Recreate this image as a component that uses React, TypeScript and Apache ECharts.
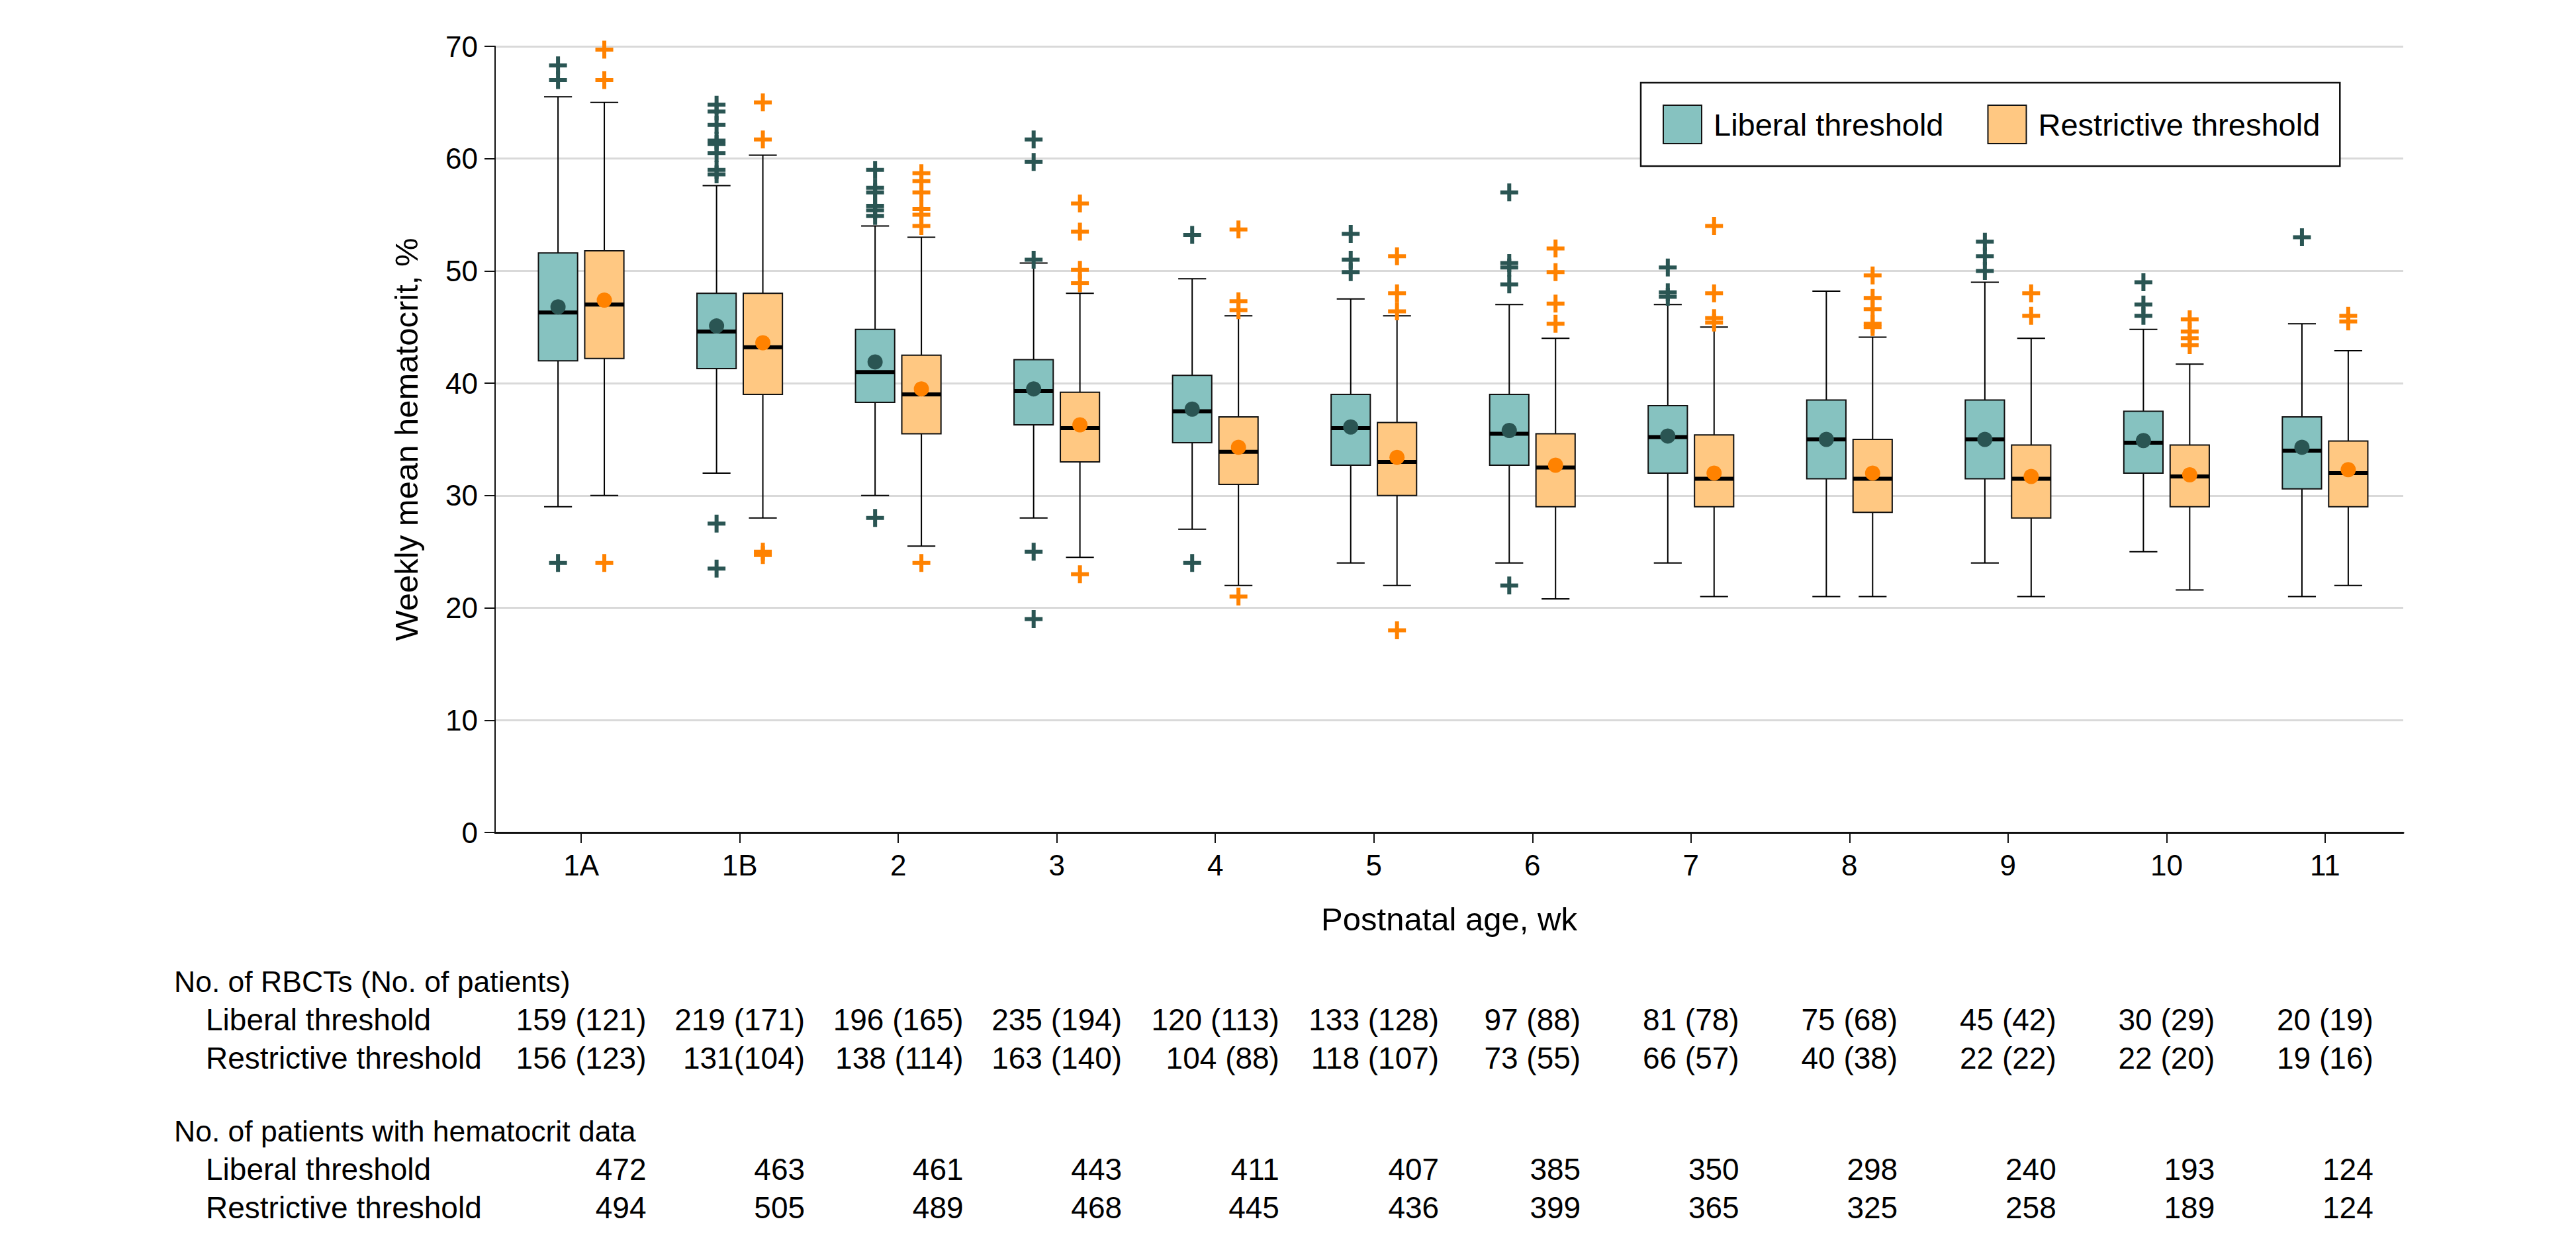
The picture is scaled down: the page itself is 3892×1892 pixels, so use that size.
import React, { useEffect, useRef } from 'react';
import * as echarts from 'echarts';

const CATEGORIES = ['1A', '1B', '2', '3', '4', '5', '6', '7', '8', '9', '10', '11'];

// [low whisker, Q1, median, Q3, high whisker]
const LIBERAL_STATS = [
  [29.0, 42.0, 46.3, 51.6, 65.5],
  [32.0, 41.3, 44.6, 48.0, 57.6],
  [30.0, 38.3, 41.0, 44.8, 54.0],
  [28.0, 36.3, 39.3, 42.1, 50.7],
  [27.0, 34.7, 37.5, 40.7, 49.3],
  [24.0, 32.7, 36.0, 39.0, 47.5],
  [24.0, 32.7, 35.5, 39.0, 47.0],
  [24.0, 32.0, 35.2, 38.0, 47.0],
  [21.0, 31.5, 35.0, 38.5, 48.2],
  [24.0, 31.5, 35.0, 38.5, 49.0],
  [25.0, 32.0, 34.7, 37.5, 44.8],
  [21.0, 30.6, 34.0, 37.0, 45.3],
];
const RESTRICTIVE_STATS = [
  [30.0, 42.2, 47.0, 51.8, 65.0],
  [28.0, 39.0, 43.2, 48.0, 60.3],
  [25.5, 35.5, 39.0, 42.5, 53.0],
  [24.5, 33.0, 36.0, 39.2, 48.0],
  [22.0, 31.0, 33.9, 37.0, 46.0],
  [22.0, 30.0, 33.0, 36.5, 46.0],
  [20.8, 29.0, 32.5, 35.5, 44.0],
  [21.0, 29.0, 31.5, 35.4, 45.0],
  [21.0, 28.5, 31.5, 35.0, 44.1],
  [21.0, 28.0, 31.5, 34.5, 44.0],
  [21.6, 29.0, 31.7, 34.5, 41.7],
  [22.0, 29.0, 32.0, 34.85, 42.9],
];
const LIBERAL_MEANS = [46.8, 45.1, 41.9, 39.5, 37.7, 36.1, 35.8, 35.3, 35.0, 35.0, 34.9, 34.3];
const RESTRICTIVE_MEANS = [47.4, 43.6, 39.5, 36.3, 34.3, 33.4, 32.7, 32.0, 32.0, 31.7, 31.85, 32.3];

const LIBERAL_OUTLIERS = [
  [68.3, 67.0, 24.0],
  [64.8, 64.2, 63.0, 61.6, 61.3, 60.5, 59.0, 58.6, 27.5, 23.5],
  [59.0, 57.4, 57.0, 55.8, 55.4, 54.9, 28.0],
  [61.7, 59.7, 51.0, 25.0, 19.0],
  [53.2, 24.0],
  [53.3, 51.0, 49.9],
  [57.0, 50.7, 50.3, 48.8, 22.0],
  [50.3, 48.1, 47.7],
  [],
  [52.6, 51.3, 50.0],
  [49.0, 47.0, 46.0],
  [53.0],
];
const RESTRICTIVE_OUTLIERS = [
  [69.7, 67.0, 24.0],
  [65.0, 61.7, 25.0, 24.7],
  [58.7, 58.0, 57.0, 55.5, 55.0, 54.0, 24.0],
  [56.0, 53.5, 50.1, 48.9, 23.0],
  [53.7, 47.3, 46.5, 21.0],
  [51.3, 48.0, 46.4, 18.0],
  [52.0, 49.9, 47.1, 45.3],
  [54.0, 48.0, 45.8, 45.4],
  [49.6, 47.6, 46.6, 45.3, 45.0],
  [48.0, 46.0],
  [45.7, 44.6, 44.0, 43.4],
  [46.0, 45.5],
];

const RBCT_LIBERAL = ['159 (121)', '219 (171)', '196 (165)', '235 (194)', '120 (113)', '133 (128)', '97 (88)', '81 (78)', '75 (68)', '45 (42)', '30 (29)', '20 (19)'];
const RBCT_RESTRICTIVE = ['156 (123)', '131(104)', '138 (114)', '163 (140)', '104 (88)', '118 (107)', '73 (55)', '66 (57)', '40 (38)', '22 (22)', '22 (20)', '19 (16)'];
const HCT_LIBERAL = ['472', '463', '461', '443', '411', '407', '385', '350', '298', '240', '193', '124'];
const HCT_RESTRICTIVE = ['494', '505', '489', '468', '445', '436', '399', '365', '325', '258', '189', '124'];

const SERIES_NAMES = ['Liberal threshold', 'Restrictive threshold'];

const FONT = '"Liberation Sans", Arial, Helvetica, sans-serif';
const TEAL_FILL = '#86C2C0';
const TEAL_DARK = '#2A5553';
const ORANGE_FILL = '#FFC882';
const ORANGE = '#FF8200';

const OFFSET = 0.146; // half distance between paired boxes, in category units
const BOX_WIDTH = 0.247;
const CAP_WIDTH = 0.176;
const PLUS = 'path://M10.5,0H16.5V10.5H27V16.5H16.5V27H10.5V16.5H0V10.5H10.5Z';

function makeRenderItem(off: number, fill: string) {
  return (params: any, api: any) => {
    const x = api.value(0) + off;
    const unit = api.size([1, 0])[0];
    const hb = (BOX_WIDTH * unit) / 2;
    const hc = (CAP_WIDTH * unit) / 2;
    const pLow = api.coord([x, api.value(1)]);
    const pQ1 = api.coord([x, api.value(2)]);
    const pMed = api.coord([x, api.value(3)]);
    const pQ3 = api.coord([x, api.value(4)]);
    const pHigh = api.coord([x, api.value(5)]);
    const cx = pMed[0];
    const ls = { stroke: '#000', lineWidth: 2 };
    return {
      type: 'group',
      children: [
        { type: 'line', shape: { x1: cx, y1: pLow[1], x2: cx, y2: pQ1[1] }, style: ls },
        { type: 'line', shape: { x1: cx, y1: pQ3[1], x2: cx, y2: pHigh[1] }, style: ls },
        { type: 'line', shape: { x1: cx - hc, y1: pLow[1], x2: cx + hc, y2: pLow[1] }, style: ls },
        { type: 'line', shape: { x1: cx - hc, y1: pHigh[1], x2: cx + hc, y2: pHigh[1] }, style: ls },
        {
          type: 'rect',
          shape: { x: cx - hb, y: pQ3[1], width: 2 * hb, height: pQ1[1] - pQ3[1] },
          style: { fill, stroke: '#111', lineWidth: 2 },
        },
        { type: 'line', shape: { x1: cx - hb, y1: pMed[1], x2: cx + hb, y2: pMed[1] }, style: { stroke: '#000', lineWidth: 6 } },
      ],
    };
  };
}

function buildOption() {
  const libBox = CATEGORIES.map((_, i) => [i + 1, ...LIBERAL_STATS[i]]);
  const resBox = CATEGORIES.map((_, i) => [i + 1, ...RESTRICTIVE_STATS[i]]);
  const libMean = CATEGORIES.map((_, i) => [i + 1 - OFFSET, LIBERAL_MEANS[i]]);
  const resMean = CATEGORIES.map((_, i) => [i + 1 + OFFSET, RESTRICTIVE_MEANS[i]]);
  const libOut: number[][] = [];
  const resOut: number[][] = [];
  LIBERAL_OUTLIERS.forEach((list, i) => list.forEach((v) => libOut.push([i + 1 - OFFSET, v])));
  RESTRICTIVE_OUTLIERS.forEach((list, i) => list.forEach((v) => resOut.push([i + 1 + OFFSET, v])));
  const ticks = CATEGORIES.map((_, i) => i + 1);

  return {
    animation: false,
    backgroundColor: '#fff',
    textStyle: { fontFamily: FONT },
    grid: { left: 748, top: 70, right: 261, bottom: 634, containLabel: false },
    legend: {
      left: 2479,
      top: 125,
      orient: 'horizontal',
      selectedMode: false,
      itemWidth: 58,
      itemHeight: 58,
      itemGap: 66,
      padding: [33, 30, 33, 33],
      borderColor: '#111',
      borderWidth: 2.5,
      backgroundColor: '#fff',
      textStyle: { fontSize: 47, color: '#000', fontFamily: FONT, padding: [0, 0, 0, 13] },
      data: [
        { name: SERIES_NAMES[0], icon: 'rect', itemStyle: { color: TEAL_FILL, borderColor: '#111', borderWidth: 2 } },
        { name: SERIES_NAMES[1], icon: 'rect', itemStyle: { color: ORANGE_FILL, borderColor: '#111', borderWidth: 2 } },
      ],
    },
    xAxis: {
      type: 'value',
      min: 0.457,
      max: 12.493,
      name: 'Postnatal age, wk',
      nameLocation: 'middle',
      nameGap: 106,
      nameTextStyle: { fontSize: 49, color: '#000', fontFamily: FONT },
      axisLine: { show: true, onZero: false, lineStyle: { color: '#111', width: 3 } },
      axisTick: { show: true, length: 16, customValues: ticks, lineStyle: { color: '#111', width: 2 } },
      axisLabel: {
        show: true,
        customValues: ticks,
        margin: 27,
        fontSize: 44,
        color: '#000',
        fontFamily: FONT,
        formatter: (v: number) => CATEGORIES[Math.round(v) - 1] ?? '',
      },
      splitLine: { show: false },
    },
    yAxis: {
      type: 'value',
      min: 0,
      max: 70,
      interval: 10,
      name: 'Weekly mean hematocrit, %',
      nameLocation: 'middle',
      nameGap: 110,
      nameTextStyle: { fontSize: 49, color: '#000', fontFamily: FONT },
      axisLine: { show: true, onZero: false, lineStyle: { color: '#111', width: 2 } },
      axisTick: { show: true, length: 16, lineStyle: { color: '#111', width: 2 } },
      axisLabel: { margin: 26, fontSize: 44, color: '#000', fontFamily: FONT },
      splitLine: { show: true, lineStyle: { color: '#D9D9D9', width: 3 } },
    },
    series: [
      {
        name: SERIES_NAMES[0],
        type: 'custom',
        renderItem: makeRenderItem(-OFFSET, TEAL_FILL),
        itemStyle: { color: TEAL_FILL },
        encode: { x: 0, y: [1, 2, 3, 4, 5] },
        data: libBox,
        z: 2,
      },
      {
        name: SERIES_NAMES[1],
        type: 'custom',
        renderItem: makeRenderItem(OFFSET, ORANGE_FILL),
        itemStyle: { color: ORANGE_FILL },
        encode: { x: 0, y: [1, 2, 3, 4, 5] },
        data: resBox,
        z: 2,
      },
      {
        name: 'Liberal mean',
        type: 'scatter',
        symbol: 'circle',
        symbolSize: 23,
        itemStyle: { color: TEAL_DARK, opacity: 1 },
        data: libMean,
        z: 3,
      },
      {
        name: 'Restrictive mean',
        type: 'scatter',
        symbol: 'circle',
        symbolSize: 23,
        itemStyle: { color: ORANGE, opacity: 1 },
        data: resMean,
        z: 3,
      },
      {
        name: 'Liberal outliers',
        type: 'scatter',
        symbol: PLUS,
        symbolSize: 27,
        itemStyle: { color: TEAL_DARK, opacity: 1 },
        data: libOut,
        z: 4,
      },
      {
        name: 'Restrictive outliers',
        type: 'scatter',
        symbol: PLUS,
        symbolSize: 27,
        itemStyle: { color: ORANGE, opacity: 1 },
        data: resOut,
        z: 4,
      },
    ],
  };
}

export default function App() {
  const ref = useRef<HTMLDivElement>(null);
  useEffect(() => {
    if (!ref.current) return;
    const chart = echarts.init(ref.current, null, { renderer: 'svg' });
    chart.setOption(buildOption() as any);

    const headSize = 44.5;
    const labelSize = 46;
    const numSize = 46;
    const canvas = document.createElement('canvas');
    const ctx = canvas.getContext('2d')!;
    ctx.font = `${numSize}px ${FONT}`;
    const w = (s: string) => ctx.measureText(s).width;

    const centers = CATEGORIES.map((_, i) => chart.convertToPixel({ xAxisIndex: 0 }, i + 1) as unknown as number);
    const rights = centers.map((c, i) => c + Math.max(w(RBCT_LIBERAL[i]), w(RBCT_RESTRICTIVE[i])) / 2);

    const txt = (text: string, x: number, baseline: number, align: string, size: number) => ({
      type: 'text',
      x,
      y: baseline - 0.3465 * size,
      silent: true,
      style: { text, fontSize: size, fontFamily: FONT, fill: '#000', align, verticalAlign: 'middle' },
    });

    const rows = [
      { label: 'No. of RBCTs (No. of patients)', x: 263, baseline: 1499, size: headSize, values: null as string[] | null },
      { label: 'Liberal threshold', x: 311, baseline: 1557, size: labelSize, values: RBCT_LIBERAL },
      { label: 'Restrictive threshold', x: 311, baseline: 1615, size: labelSize, values: RBCT_RESTRICTIVE },
      { label: 'No. of patients with hematocrit data', x: 263, baseline: 1725, size: headSize, values: null },
      { label: 'Liberal threshold', x: 311, baseline: 1783, size: labelSize, values: HCT_LIBERAL },
      { label: 'Restrictive threshold', x: 311, baseline: 1841, size: labelSize, values: HCT_RESTRICTIVE },
    ];
    const elements: any[] = [];
    rows.forEach((r) => {
      elements.push(txt(r.label, r.x, r.baseline, 'left', r.size));
      if (r.values) r.values.forEach((v, i) => elements.push(txt(v, rights[i], r.baseline, 'right', numSize)));
    });
    chart.setOption({ graphic: elements });

    return () => chart.dispose();
  }, []);
  return (
    <div
      ref={ref}
      style={{ position: 'fixed', left: 0, top: 0, width: 3892, height: 1892, background: '#fff' }}
    />
  );
}
